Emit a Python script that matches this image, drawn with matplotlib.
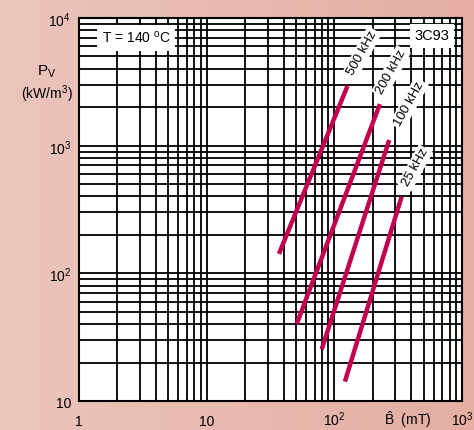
import numpy as np
import matplotlib
matplotlib.use("Agg")
import matplotlib.pyplot as plt
from matplotlib.colors import LinearSegmentedColormap

plt.rcParams['font.family'] = ['Liberation Sans', 'DejaVu Sans']
plt.rcParams['mathtext.fontset'] = 'custom'
plt.rcParams['mathtext.rm'] = 'Liberation Sans'
plt.rcParams['mathtext.it'] = 'Liberation Sans'

# Data: (B in mT, Pv in kW/m^3) endpoints of each frequency curve
freq_labels = ["500 kHz", "200 kHz", "100 kHz", "25 kHz"]
b_500 = [36.8, 126.7]
p_500 = [142, 2930]
b_200 = [50.7, 227.5]
p_200 = [40.1, 2117]
b_100 = [79.6, 269]
p_100 = [25.4, 1107]
b_25 = [121, 336.5]
p_25 = [14.2, 398]
x_ticks = [1, 10, 100, 1000]
x_ticklabels = ["1", "10", r"10$^{2}$", r"10$^{3}$"]
y_ticks = [10, 100, 1000, 10000]
y_ticklabels = ["10", r"10$^{2}$", r"10$^{3}$", r"10$^{4}$"]

W, H = 474, 430
fig = plt.figure(figsize=(W/100, H/100), dpi=100)

# background gradient
bg = fig.add_axes([0, 0, 1, 1])
cmap = LinearSegmentedColormap.from_list("bg", ["#EBC5BC", "#E4AEA3"])
grad = np.linspace(0, 1, 256).reshape(1, -1)
bg.imshow(grad, aspect='auto', cmap=cmap, extent=[0, 1, 0, 1])
bg.set_axis_off()

ax = fig.add_axes([79/W, (H-401)/H, 383/W, 383/H])
ax.set_facecolor('white')
ax.set_xscale('log')
ax.set_yscale('log')
ax.set_xlim(1, 1000)
ax.set_ylim(10, 10000)
ax.set_xticks(x_ticks)
ax.set_yticks(y_ticks)
ax.grid(True, which='both', color='black', lw=1.3)
ax.set_axisbelow(True)
for s in ax.spines.values():
    s.set_linewidth(1.5)
ax.tick_params(which='both', length=0, labelbottom=False, labelleft=False)

# tick labels placed with a common baseline
tr_x = ax.get_xaxis_transform()
for xv, lab in zip(x_ticks, x_ticklabels):
    ax.text(xv, -25/383, lab, transform=tr_x, fontsize=10, ha='center',
            va='baseline', clip_on=False)
tr_y = ax.get_yaxis_transform()
for yv, lab in zip(y_ticks, y_ticklabels):
    off = 3 if lab == "10" else 9
    yy = np.log10(yv)
    ax.text(-8/383, 10**(yy - off/127.7), lab, transform=tr_y, fontsize=10,
            ha='right', va='baseline' if off == 9 else 'center', clip_on=False)

color = '#C2004F'
curves = [(b_500, p_500), (b_200, p_200), (b_100, p_100), (b_25, p_25)]
for b, p in curves:
    ax.plot(b, p, color=color, lw=3.2, solid_capstyle='butt')

# curve labels (in pixel coords of figure)
label_pos = [(362, 53), (391, 72), (409, 104), (415, 168)]
for lab, (px, py) in zip(freq_labels, label_pos):
    fig.text(px/W, 1-py/H, lab, rotation=61, fontsize=9.5, ha='center', va='center',
             rotation_mode='anchor',
             bbox=dict(facecolor='white', edgecolor='none', pad=1.5), zorder=5)

fig.text(136/W, 1-38/H, r"T = 140 $^{\rm o}$C", fontsize=10, ha='center', va='center',
         bbox=dict(facecolor='white', edgecolor='none', pad=3.5), zorder=5)
fig.text(432/W, 1-36/H, "3C93", fontsize=10.5, ha='center', va='center',
         bbox=dict(facecolor='white', edgecolor='none', pad=3.5), zorder=5)

fig.text(47/W, 1-72/H, r"P$_{\rm V}$", fontsize=11, ha='center', va='center')
fig.text(47/W, 1-94/H, r"(kW/m$^{3}$)", fontsize=10, ha='center', va='center')
fig.text(408/W, 1-425/H, r"$\hat{\rm B}$  (mT)", fontsize=10, ha='center', va='baseline')

fig.savefig("out.png", dpi=100)
